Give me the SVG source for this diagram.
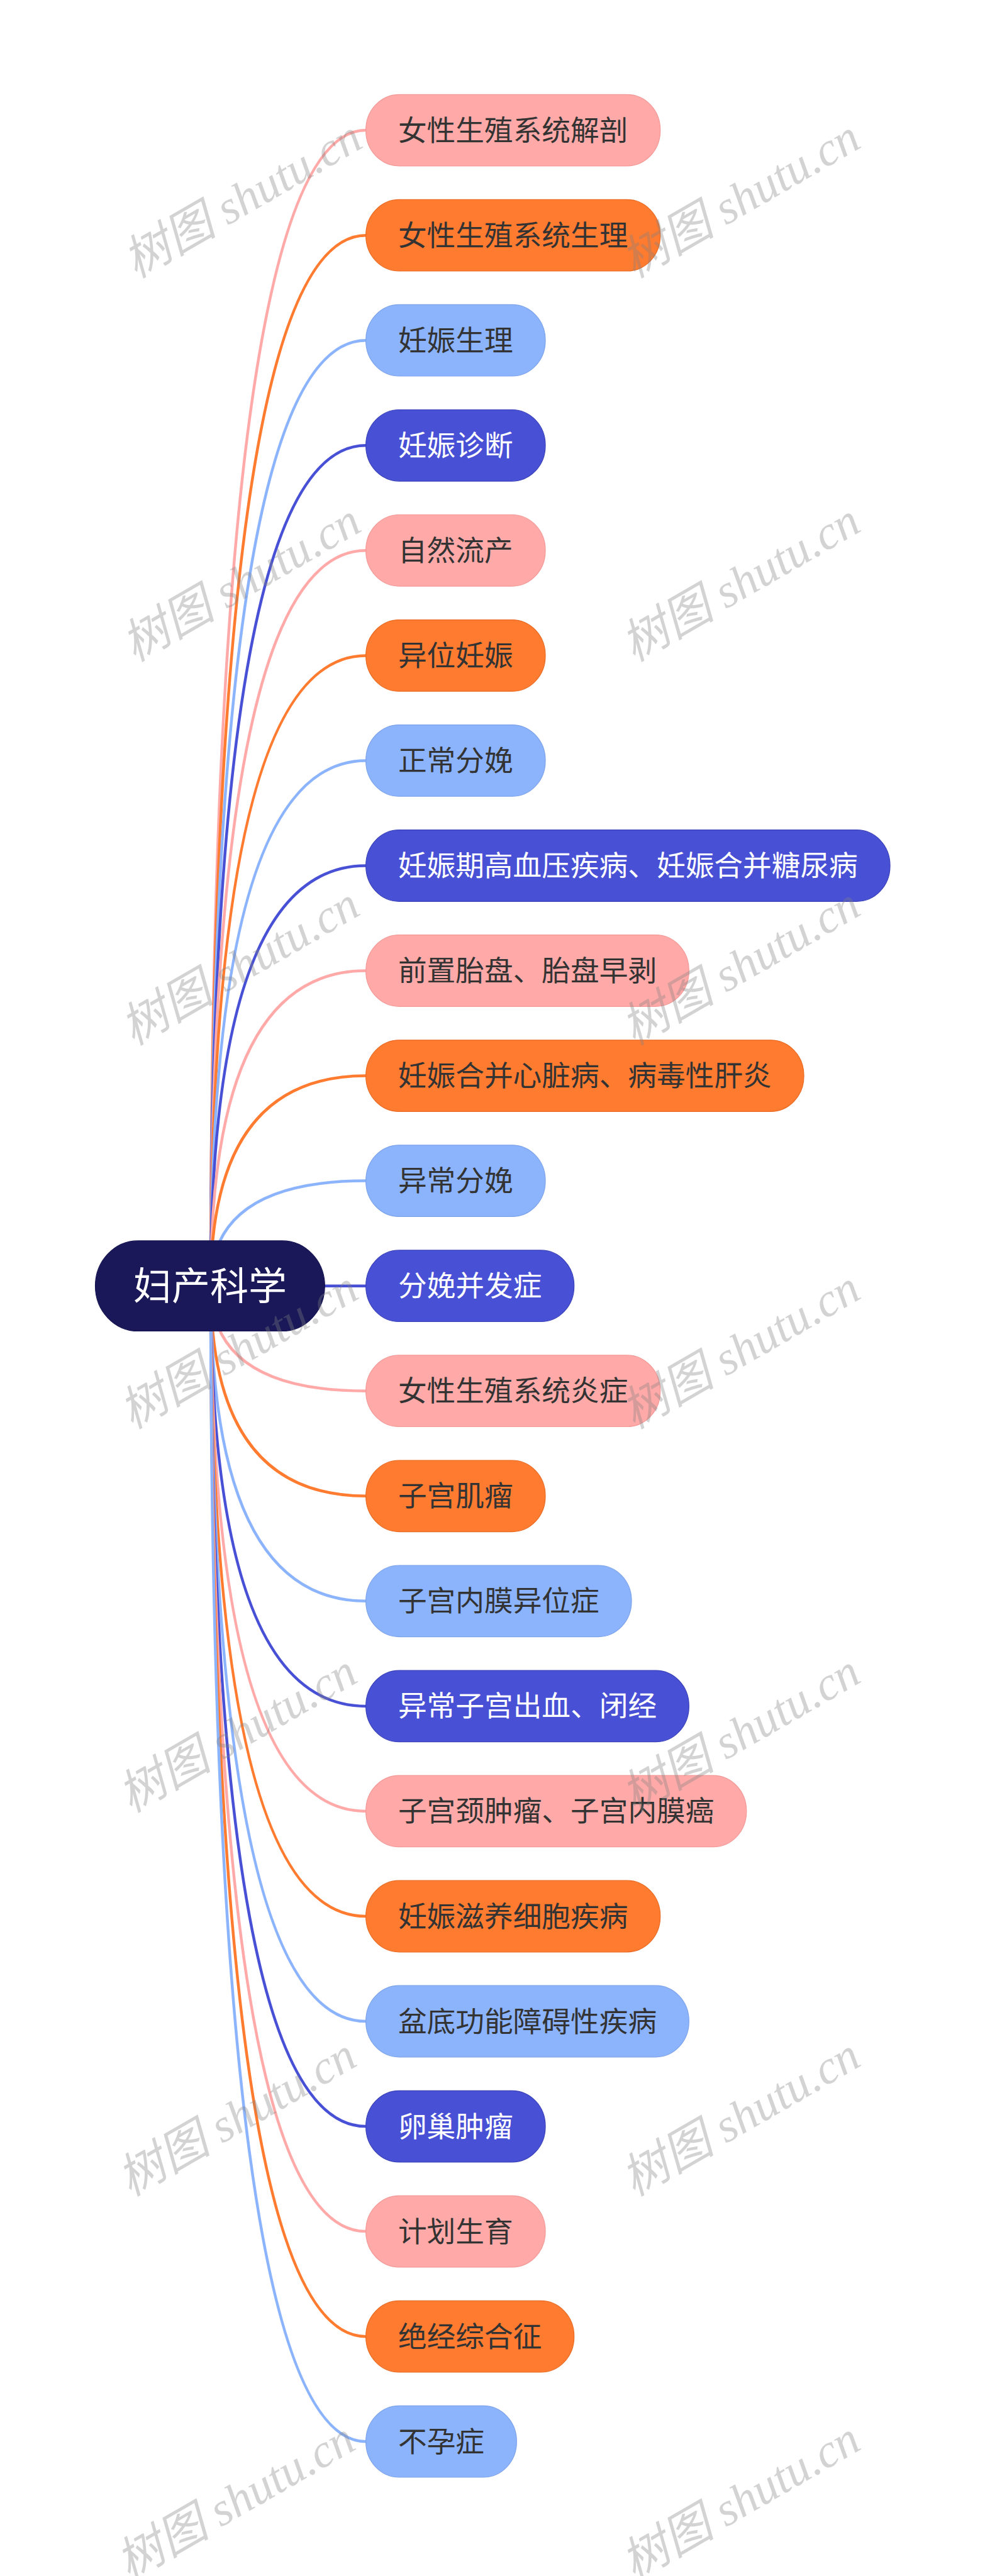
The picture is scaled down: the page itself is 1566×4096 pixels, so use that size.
<svg xmlns="http://www.w3.org/2000/svg" width="1566" height="4096" viewBox="0 0 1566 4096">
<style>
.c{fill:none;stroke-width:4.5;stroke-linecap:round}
.p{stroke:#FFAAA8}.o{stroke:#FF7B30}.b{stroke:#8CB4FD}.i{stroke:#4850D6}
.n rect{stroke-width:1.2}
.np rect{fill:#FFAAA8;stroke:#F39896}
.no rect{fill:#FF7B30;stroke:#E86A22}
.nb rect{fill:#8CB4FD;stroke:#7CA2EA}
.ni rect{fill:#4850D6;stroke:#3A41B8}
.n text{font-family:"Noto Sans CJK SC","Noto Sans",sans-serif;font-size:45.7px;text-anchor:middle;fill:#333333}
.ni text{fill:#FFFFFF}
.root rect{fill:#1A1858;stroke:#141250;stroke-width:1.2}
.root text{font-family:"Noto Sans CJK SC","Noto Sans",sans-serif;font-size:61px;text-anchor:middle;fill:#FFFFFF}
.wm{font-family:"Liberation Serif","Noto Sans CJK SC",serif;font-style:italic;font-size:75px;fill:#808080;fill-opacity:0.35;text-anchor:middle}
</style>
<rect width="1566" height="4096" fill="#FFFFFF"/>
<g id="connectors">
<path class="c p" d="M335,2044.7 Q335,207.1 581.7,207.1"/>
<path class="c o" d="M335,2044.7 Q335,374.2 581.7,374.2"/>
<path class="c b" d="M335,2044.7 Q335,541.2 581.7,541.2"/>
<path class="c i" d="M335,2044.7 Q335,708.3 581.7,708.3"/>
<path class="c p" d="M335,2044.7 Q335,875.3 581.7,875.3"/>
<path class="c o" d="M335,2044.7 Q335,1042.4 581.7,1042.4"/>
<path class="c b" d="M335,2044.7 Q335,1209.4 581.7,1209.4"/>
<path class="c i" d="M335,2044.7 Q335,1376.5 581.7,1376.5"/>
<path class="c p" d="M335,2044.7 Q335,1543.5 581.7,1543.5"/>
<path class="c o" d="M335,2044.7 Q335,1710.6 581.7,1710.6"/>
<path class="c b" d="M335,2044.7 Q335,1877.6 581.7,1877.6"/>
<path class="c i" d="M335,2044.7 L581.7,2044.7"/>
<path class="c p" d="M335,2044.7 Q335,2211.7 581.7,2211.7"/>
<path class="c o" d="M335,2044.7 Q335,2378.8 581.7,2378.8"/>
<path class="c b" d="M335,2044.7 Q335,2545.8 581.7,2545.8"/>
<path class="c i" d="M335,2044.7 Q335,2712.9 581.7,2712.9"/>
<path class="c p" d="M335,2044.7 Q335,2879.9 581.7,2879.9"/>
<path class="c o" d="M335,2044.7 Q335,3047.0 581.7,3047.0"/>
<path class="c b" d="M335,2044.7 Q335,3214.0 581.7,3214.0"/>
<path class="c i" d="M335,2044.7 Q335,3381.1 581.7,3381.1"/>
<path class="c p" d="M335,2044.7 Q335,3548.1 581.7,3548.1"/>
<path class="c o" d="M335,2044.7 Q335,3715.2 581.7,3715.2"/>
<path class="c b" d="M335,2044.7 Q335,3882.2 581.7,3882.2"/>
</g>
<g id="root" class="root">
<rect x="151.5" y="1972.9" width="364.8" height="143.6" rx="68" ry="71.8"/>
<text x="333.9" y="2066.5">妇产科学</text>
</g>
<g id="n1" class="n np"><rect x="581.7" y="150.3" width="468.0" height="113.6" rx="53" ry="56"/><text x="815.7" y="223.6">女性生殖系统解剖</text></g>
<g id="n2" class="n no"><rect x="581.7" y="317.4" width="468.0" height="113.6" rx="53" ry="56"/><text x="815.7" y="390.7">女性生殖系统生理</text></g>
<g id="n3" class="n nb"><rect x="581.7" y="484.4" width="285.3" height="113.6" rx="53" ry="56"/><text x="724.3" y="557.7">妊娠生理</text></g>
<g id="n4" class="n ni"><rect x="581.7" y="651.5" width="285.3" height="113.6" rx="53" ry="56"/><text x="724.3" y="724.8">妊娠诊断</text></g>
<g id="n5" class="n np"><rect x="581.7" y="818.5" width="285.3" height="113.6" rx="53" ry="56"/><text x="724.3" y="891.8">自然流产</text></g>
<g id="n6" class="n no"><rect x="581.7" y="985.6" width="285.3" height="113.6" rx="53" ry="56"/><text x="724.3" y="1058.9">异位妊娠</text></g>
<g id="n7" class="n nb"><rect x="581.7" y="1152.6" width="285.3" height="113.6" rx="53" ry="56"/><text x="724.3" y="1225.9">正常分娩</text></g>
<g id="n8" class="n ni"><rect x="581.7" y="1319.7" width="833.3" height="113.6" rx="53" ry="56"/><text x="998.3" y="1393.0">妊娠期高血压疾病、妊娠合并糖尿病</text></g>
<g id="n9" class="n np"><rect x="581.7" y="1486.7" width="513.6" height="113.6" rx="53" ry="56"/><text x="838.5" y="1560.0">前置胎盘、胎盘早剥</text></g>
<g id="n10" class="n no"><rect x="581.7" y="1653.8" width="696.3" height="113.6" rx="53" ry="56"/><text x="929.8" y="1727.1">妊娠合并心脏病、病毒性肝炎</text></g>
<g id="n11" class="n nb"><rect x="581.7" y="1820.8" width="285.3" height="113.6" rx="53" ry="56"/><text x="724.3" y="1894.1">异常分娩</text></g>
<g id="n12" class="n ni"><rect x="581.7" y="1987.9" width="331.0" height="113.6" rx="53" ry="56"/><text x="747.2" y="2061.2">分娩并发症</text></g>
<g id="n13" class="n np"><rect x="581.7" y="2154.9" width="468.0" height="113.6" rx="53" ry="56"/><text x="815.7" y="2228.2">女性生殖系统炎症</text></g>
<g id="n14" class="n no"><rect x="581.7" y="2322.0" width="285.3" height="113.6" rx="53" ry="56"/><text x="724.3" y="2395.3">子宫肌瘤</text></g>
<g id="n15" class="n nb"><rect x="581.7" y="2489.0" width="422.3" height="113.6" rx="53" ry="56"/><text x="792.8" y="2562.3">子宫内膜异位症</text></g>
<g id="n16" class="n ni"><rect x="581.7" y="2656.1" width="513.6" height="113.6" rx="53" ry="56"/><text x="838.5" y="2729.4">异常子宫出血、闭经</text></g>
<g id="n17" class="n np"><rect x="581.7" y="2823.1" width="605.0" height="113.6" rx="53" ry="56"/><text x="884.2" y="2896.4">子宫颈肿瘤、子宫内膜癌</text></g>
<g id="n18" class="n no"><rect x="581.7" y="2990.2" width="468.0" height="113.6" rx="53" ry="56"/><text x="815.7" y="3063.5">妊娠滋养细胞疾病</text></g>
<g id="n19" class="n nb"><rect x="581.7" y="3157.2" width="513.6" height="113.6" rx="53" ry="56"/><text x="838.5" y="3230.5">盆底功能障碍性疾病</text></g>
<g id="n20" class="n ni"><rect x="581.7" y="3324.3" width="285.3" height="113.6" rx="53" ry="56"/><text x="724.3" y="3397.6">卵巢肿瘤</text></g>
<g id="n21" class="n np"><rect x="581.7" y="3491.3" width="285.3" height="113.6" rx="53" ry="56"/><text x="724.3" y="3564.6">计划生育</text></g>
<g id="n22" class="n no"><rect x="581.7" y="3658.4" width="331.0" height="113.6" rx="53" ry="56"/><text x="747.2" y="3731.7">绝经综合征</text></g>
<g id="n23" class="n nb"><rect x="581.7" y="3825.4" width="239.6" height="113.6" rx="53" ry="56"/><text x="701.5" y="3898.7">不孕症</text></g>
<g id="watermarks">
<text class="wm" transform="translate(398,338) rotate(-30)">树图 shutu.cn</text>
<text class="wm" transform="translate(1190,338) rotate(-30)">树图 shutu.cn</text>
<text class="wm" transform="translate(396,948) rotate(-30)">树图 shutu.cn</text>
<text class="wm" transform="translate(1190,948) rotate(-30)">树图 shutu.cn</text>
<text class="wm" transform="translate(394,1558) rotate(-30)">树图 shutu.cn</text>
<text class="wm" transform="translate(1190,1558) rotate(-30)">树图 shutu.cn</text>
<text class="wm" transform="translate(392,2168) rotate(-30)">树图 shutu.cn</text>
<text class="wm" transform="translate(1190,2168) rotate(-30)">树图 shutu.cn</text>
<text class="wm" transform="translate(390,2778) rotate(-30)">树图 shutu.cn</text>
<text class="wm" transform="translate(1190,2778) rotate(-30)">树图 shutu.cn</text>
<text class="wm" transform="translate(389,3388) rotate(-30)">树图 shutu.cn</text>
<text class="wm" transform="translate(1190,3388) rotate(-30)">树图 shutu.cn</text>
<text class="wm" transform="translate(387,3998) rotate(-30)">树图 shutu.cn</text>
<text class="wm" transform="translate(1190,3998) rotate(-30)">树图 shutu.cn</text>
</g>
</svg>
